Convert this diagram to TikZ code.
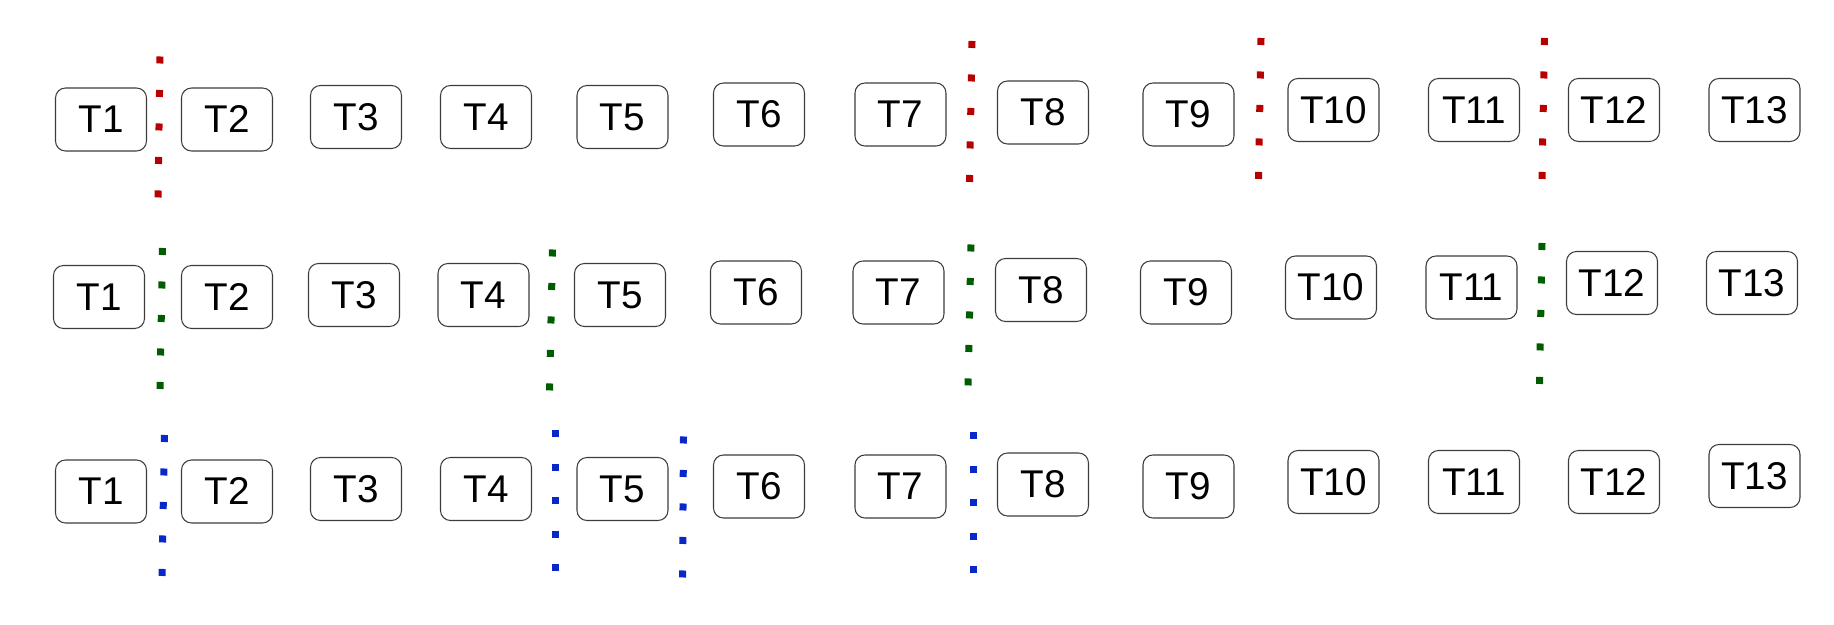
\documentclass[tikz,border=0pt]{standalone}
\usepackage{fontspec}
\setmainfont{Liberation Sans}
\definecolor{cutRed}{HTML}{B80000}
\definecolor{cutGreen}{HTML}{005C00}
\definecolor{cutBlue}{HTML}{0A28C8}
\definecolor{taskBorder}{HTML}{3C3C3C}
\begin{document}
\begin{tikzpicture}[
  task/.style={draw=taskBorder,line width=0.6pt,rounded corners=0.2cm,fill=white,
    minimum width=1.82cm,minimum height=1.26cm,inner sep=0pt,font=\fontsize{22}{26}\selectfont},
  cut/.style={line width=0.14cm,dash pattern=on 0.14cm off 0.53cm}]
\useasboundingbox (0,0) rectangle (36.68,12.5);

% Row 1
\node[task] (a1) at (2.02,10.11) {T1};
\node[task] (a2) at (4.54,10.11) {T2};
\node[task] (a3) at (7.12,10.16) {T3};
\node[task] (a4) at (9.72,10.16) {T4};
\node[task] (a5) at (12.45,10.16) {T5};
\node[task] (a6) at (15.18,10.21) {T6};
\node[task] (a7) at (18.01,10.21) {T7};
\node[task] (a8) at (20.86,10.25) {T8};
\node[task] (a9) at (23.77,10.21) {T9};
\node[task] (a10) at (26.67,10.30) {T10};
\node[task] (a11) at (29.48,10.30) {T11};
\node[task] (a12) at (32.28,10.30) {T12};
\node[task] (a13) at (35.09,10.30) {T13};

\draw[cut,color=cutRed] (3.20,11.37) -- (3.16,8.53);
\draw[cut,color=cutRed] (19.44,11.68) -- (19.39,8.84);
\draw[cut,color=cutRed] (25.22,11.74) -- (25.17,8.90);
\draw[cut,color=cutRed] (30.89,11.74) -- (30.84,8.90);

% Row 2
\node[task] (b1) at (1.98,6.56) {T1};
\node[task] (b2) at (4.54,6.56) {T2};
\node[task] (b3) at (7.08,6.60) {T3};
\node[task] (b4) at (9.67,6.60) {T4};
\node[task] (b5) at (12.40,6.60) {T5};
\node[task] (b6) at (15.12,6.65) {T6};
\node[task] (b7) at (17.97,6.65) {T7};
\node[task] (b8) at (20.82,6.70) {T8};
\node[task] (b9) at (23.72,6.65) {T9};
\node[task] (b10) at (26.62,6.75) {T10};
\node[task] (b11) at (29.43,6.75) {T11};
\node[task] (b12) at (32.24,6.84) {T12};
\node[task] (b13) at (35.04,6.84) {T13};

\draw[cut,color=cutGreen] (3.25,7.54) -- (3.20,4.70);
\draw[cut,color=cutGreen] (11.05,7.51) -- (10.99,4.67);
\draw[cut,color=cutGreen] (19.42,7.61) -- (19.36,4.77);
\draw[cut,color=cutGreen] (30.84,7.64) -- (30.79,4.80);

% Row 3
\node[task] (c1) at (2.02,2.67) {T1};
\node[task] (c2) at (4.54,2.67) {T2};
\node[task] (c3) at (7.12,2.72) {T3};
\node[task] (c4) at (9.72,2.72) {T4};
\node[task] (c5) at (12.45,2.72) {T5};
\node[task] (c6) at (15.18,2.77) {T6};
\node[task] (c7) at (18.01,2.77) {T7};
\node[task] (c8) at (20.86,2.81) {T8};
\node[task] (c9) at (23.77,2.77) {T9};
\node[task] (c10) at (26.67,2.86) {T10};
\node[task] (c11) at (29.48,2.86) {T11};
\node[task] (c12) at (32.28,2.86) {T12};
\node[task] (c13) at (35.09,2.98) {T13};

\draw[cut,color=cutBlue] (3.29,3.80) -- (3.24,0.96);
\draw[cut,color=cutBlue] (11.10,3.89) -- (11.10,1.05);
\draw[cut,color=cutBlue] (13.67,3.77) -- (13.65,0.93);
\draw[cut,color=cutBlue] (19.47,3.85) -- (19.47,1.01);
\end{tikzpicture}
\end{document}
